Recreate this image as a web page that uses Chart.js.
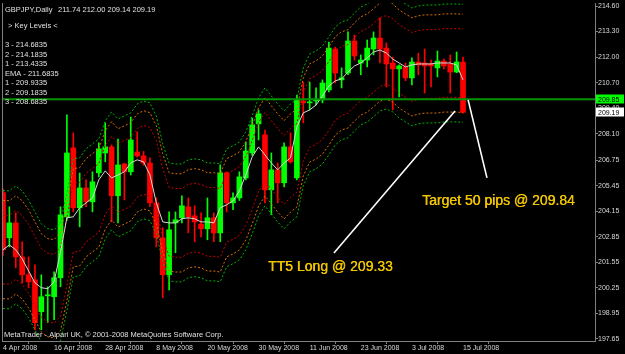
<!DOCTYPE html>
<html><head><meta charset="utf-8">
<script src="https://cdn.jsdelivr.net/npm/chart.js@4.4.0/dist/chart.umd.min.js"></script>
<style>html,body{margin:0;padding:0;background:#000;overflow:hidden}canvas{display:block}</style>
</head><body>
<canvas id="c" width="625" height="354"></canvas>
<script>
// ---- data ----
const opens  = [205.10,202.80,203.56,201.83,200.92,200.66,199.04,199.85,199.80,200.77,203.87,207.38,204.33,205.34,204.63,206.11,207.12,207.43,204.94,206.56,206.16,207.17,206.97,206.61,204.58,202.80,200.92,203.56,203.82,204.38,203.92,203.50,203.26,203.82,203.05,206.11,204.58,204.83,205.85,207.12,208.60,208.04,205.24,206.26,205.60,207.43,205.85,209.77,209.67,209.77,209.82,210.33,212.41,210.84,211.19,212.82,211.70,211.85,212.41,212.97,212.46,211.70,211.40,211.50,210.94,211.75,211.70,211.65,211.45,211.80,211.65,211.24,211.74];
const highs  = [205.30,204.38,204.07,202.60,201.83,201.42,200.92,200.31,201.07,204.38,209.06,208.14,206.10,205.75,206.16,207.63,208.65,207.53,207.83,206.60,208.95,208.19,207.20,206.87,204.83,203.31,204.12,204.12,204.94,204.83,204.43,204.07,204.83,204.07,206.51,206.16,205.09,206.16,207.68,208.90,209.31,208.29,207.12,206.61,207.63,208.14,210.07,210.73,210.73,210.43,210.84,212.77,212.51,211.45,213.28,213.12,212.11,212.87,213.28,214.00,212.72,212.00,211.60,211.70,211.96,212.20,212.41,211.85,212.31,211.90,212.11,212.26,212.00];
const lows   = [201.90,202.34,201.27,200.50,200.25,198.12,198.12,198.48,198.63,200.31,203.70,204.12,203.36,204.38,204.12,205.90,206.67,203.61,203.56,204.73,206.00,206.90,206.50,204.38,202.34,199.75,200.15,202.04,203.56,203.05,202.60,202.85,202.70,202.60,202.60,204.12,204.23,204.70,205.75,207.00,207.78,204.58,203.97,204.58,205.39,206.60,205.75,208.65,209.31,209.56,209.67,210.23,210.68,210.43,211.10,211.85,211.10,211.50,212.11,211.70,210.48,209.31,209.97,210.80,210.58,211.10,210.17,210.48,210.99,211.40,210.17,211.20,209.14];
const closes = [202.19,203.56,201.83,200.92,200.56,198.48,199.80,199.90,200.77,203.97,207.12,204.33,205.34,204.63,205.65,207.33,207.43,204.94,206.51,206.16,207.78,206.97,206.61,204.58,202.80,200.92,203.21,203.72,204.43,203.87,203.61,203.26,203.82,203.05,206.11,204.58,204.83,205.90,207.22,208.55,209.11,205.24,206.26,205.60,207.43,206.67,209.82,209.67,209.72,209.82,210.68,212.46,211.19,210.94,212.82,212.06,211.85,212.46,212.97,212.41,211.65,211.40,211.55,210.94,211.75,211.60,211.55,211.55,211.80,211.55,211.24,211.75,209.19];
const emaLine = [202.19,202.44,202.19,201.73,201.12,200.51,200.26,200.21,200.56,202.09,203.82,203.87,204.33,204.58,204.83,205.75,206.21,205.85,206.00,206.16,206.61,206.77,206.67,206.00,204.58,203.61,203.56,203.56,203.77,203.82,203.77,203.61,203.61,203.56,204.33,204.48,204.68,205.19,206.00,206.92,207.43,207.02,206.61,206.26,206.61,206.87,208.45,209.16,209.31,209.56,210.02,210.53,210.79,210.89,211.24,211.55,211.70,211.96,212.26,212.36,212.21,211.90,211.70,211.50,211.60,211.65,211.65,211.65,211.70,211.70,211.70,211.60,210.84];
const envMid  = [202.20,202.19,202.44,202.19,201.73,201.12,200.51,200.26,200.21,200.56,202.09,203.82,203.87,204.33,204.58,204.83,205.75,206.21,205.85,206.00,206.16,206.61,206.77,206.67,206.00,204.58,203.61,203.56,203.56,203.77,203.82,203.77,203.61,203.61,203.56,204.33,204.48,204.68,205.19,206.00,206.92,207.43,207.02,206.61,206.26,206.61,206.87,208.45,209.16,209.31,209.56,210.02,210.53,210.79,210.89,211.24,211.55,211.70,211.96,212.26,212.36,212.21,211.90,211.70,211.50,211.60,211.65,211.65,211.65,211.70,211.70,211.70,211.68];
const envOffsets = [1.75, 2.5, 3.0];
const envColors  = ['#c80000', '#d87000', '#00b400'];
const yTicks = [214.60,213.30,212.00,210.70,209.40,208.10,206.75,205.45,204.15,202.85,201.55,200.25,198.95,197.65];
const dateTickIdx = [0,8,16,24,32,40,48,56,64,72];
const dateLabels = ['4 Apr 2008','16 Apr 2008','28 Apr 2008','8 May 2008','20 May 2008','30 May 2008','11 Jun 2008','23 Jun 2008','3 Jul 2008','15 Jul 2008'];
const hLinePrice = 209.85;
const bidPrice = 209.19;
const trend1 = [{x:51.8,y:202.03},{x:70.75,y:209.26}];
const trend2 = [{x:72.8,y:209.82},{x:75.75,y:205.85}];
const annotTexts = ['TT5 Long @ 209.33', 'Target 50 pips @ 209.84'];
const annotX = [41.48, 65.58];
const annotY = [201.11, 204.47];
const headerSymbol = 'GBPJPY,Daily';
const headerOHLC = '211.74 212.00 209.14 209.19';
const keyLevelTitle = ' > Key Levels <';
const keyLevelLines = ['3 - 214.6835','2 - 214.1835','1 - 213.4335','EMA - 211.6835','1 - 209.9335','2 - 209.1835','3 - 208.6835'];
const footer = 'MetaTrader - Alpari UK, \u00a9 2001-2008 MetaQuotes Software Corp.';

const UP = '#00ff00', DOWN = '#ff0000';
const FONT = "'Liberation Sans', Arial, sans-serif";
const idx = closes.map((_, i) => i);
const isUp = i => closes[i] >= opens[i];

const datasets = [];
datasets.push({
  type:'bar', label:'wick', order:10, grouped:false, barThickness:1, borderWidth:0,
  data: idx.map(i => ({x:i, y:[lows[i], highs[i]]})),
  backgroundColor: idx.map(i => isUp(i) ? UP : DOWN)
});
datasets.push({
  type:'bar', label:'body', order:9, grouped:false, barThickness:5, borderWidth:0, minBarLength:1,
  data: idx.map(i => ({x:i, y:[opens[i], closes[i]]})),
  backgroundColor: idx.map(i => isUp(i) ? UP : DOWN)
});
envOffsets.forEach((off, k) => {
  [1, -1].forEach(sg => {
    datasets.push({
      type:'line', label:'env', order:5, borderColor:envColors[k], borderWidth:1, borderDash:[2,2],
      pointRadius:0, tension:0, fill:false,
      data: envMid.map((m, i) => ({x:i, y:m + sg*off}))
    });
  });
});
datasets.push({
  type:'line', label:'ema', order:4, borderColor:'#d8d8d8', borderWidth:1, pointRadius:0, tension:0, fill:false,
  data: emaLine.map((v, i) => ({x:i, y:v}))
});
datasets.push({
  type:'line', label:'hline', order:3, borderColor:'#009400', borderWidth:2, pointRadius:0, fill:false,
  data: [{x:-5, y:hLinePrice}, {x:120, y:hLinePrice}]
});
[trend1, trend2].forEach(t => datasets.push({
  type:'line', label:'trend', order:2, borderColor:'#ffffff', borderWidth:1.6, pointRadius:0, fill:false, data:t
}));

const fitFix = (w, h) => s => {
  if (w !== null) s.width = w;
  if (h !== null) s.height = h;
  s.paddingTop = 0; s.paddingBottom = 0; s.paddingLeft = 0; s.paddingRight = 0;
};

const overlay = {
  id:'overlay',
  afterDatasetsDraw(chart) {
    const ctx = chart.ctx, xs = chart.scales.x, ys = chart.scales.y, a = chart.chartArea;
    ctx.save();
    ctx.beginPath(); ctx.rect(a.left, a.top, a.right - a.left, a.bottom - a.top); ctx.clip();
    ctx.font = '14px ' + FONT; ctx.fillStyle = '#f0c400'; ctx.textBaseline = 'alphabetic'; ctx.textAlign = 'left';
    annotTexts.forEach((t, i) => {
      const px = xs.getPixelForValue(annotX[i]), py = ys.getPixelForValue(annotY[i]);
      ctx.fillText(t, px, py);
      ctx.fillText(t, px + 0.4, py);
    });
    ctx.restore();
  },
  afterDraw(chart) {
    const ctx = chart.ctx, ys = chart.scales.y, a = chart.chartArea;
    ctx.save();
    ctx.strokeStyle = '#808080'; ctx.lineWidth = 1;
    ctx.beginPath(); ctx.moveTo(a.left + 0.5, a.top); ctx.lineTo(a.left + 0.5, a.bottom); ctx.stroke();
    ctx.fillStyle = '#e0e0e0'; ctx.textAlign = 'left'; ctx.textBaseline = 'alphabetic';
    ctx.font = '7.5px ' + FONT;
    ctx.fillText(headerSymbol, 5, 11.5);
    ctx.fillText(headerOHLC, 58, 11.5);
    ctx.fillText(keyLevelTitle, 6, 28);
    keyLevelLines.forEach((t, i) => ctx.fillText(t, 5, 47.3 + i*9.5));
    ctx.fillText(footer, 4, 336.5);
    ctx.font = '7px ' + FONT; ctx.textBaseline = 'middle';
    [[hLinePrice, '#00ff00'], [bidPrice, '#ffffff']].forEach(([p, col]) => {
      const y = ys.getPixelForValue(p);
      ctx.fillStyle = col; ctx.fillRect(596, Math.round(y) - 4.5, 28, 9);
      ctx.fillStyle = '#000'; ctx.fillText(p.toFixed(2), 598, y + 0.5);
    });
    ctx.restore();
  }
};

new Chart(document.getElementById('c'), {
  type:'bar',
  data:{ datasets },
  options:{
    responsive:false, animation:false, events:[],
    layout:{ padding:{ left:2, top:3, right:0, bottom:0 } },
    plugins:{ legend:{display:false}, tooltip:{enabled:false} },
    scales:{
      x:{
        type:'linear', offset:false, min:-0.1565, max:92.66,
        afterBuildTicks: s => { s.ticks = dateTickIdx.map(v => ({value:v})); },
        afterFit: fitFix(null, 13),
        grid:{ drawOnChartArea:false, drawTicks:true, tickLength:3, color:'#808080' },
        border:{ display:true, color:'#808080' },
        ticks:{ autoSkip:false, maxRotation:0, minRotation:0, align:'start', padding:0, color:'#d8d8d8',
          font:{ family:FONT, size:7 },
          callback: v => { const k = dateTickIdx.indexOf(v); return k >= 0 ? dateLabels[k] : ''; } }
      },
      y:{
        type:'linear', position:'right', min:197.548, max:214.753,
        afterBuildTicks: s => { s.ticks = yTicks.map(v => ({value:v})); },
        afterFit: fitFix(30, null),
        grid:{ drawOnChartArea:false, drawTicks:true, tickLength:3, color:'#808080' },
        border:{ display:true, color:'#808080' },
        ticks:{ padding:0, color:'#d8d8d8', font:{ family:FONT, size:7 }, callback: v => Number(v).toFixed(2) }
      }
    }
  },
  plugins:[overlay]
});
</script>
</body></html>
